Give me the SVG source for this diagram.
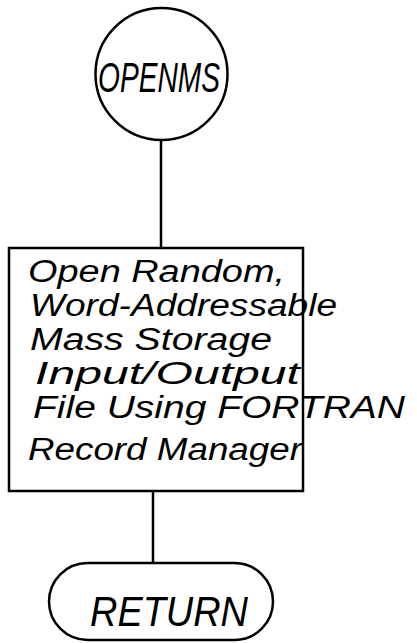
<svg xmlns="http://www.w3.org/2000/svg" width="417" height="643" viewBox="0 0 417 643">
  <style>
    .shape { fill: none; stroke: #000; stroke-width: 2.5; }
    .wire { fill: none; stroke: #000; stroke-width: 2.5; }
    .hand { font-family: "Liberation Sans", "DejaVu Sans", sans-serif; font-style: italic; font-size: 31px; fill: #000; }
    .title { font-size: 42px; }
  </style>
  <rect width="417" height="643" fill="#fff"/>

  <!-- connectors -->
  <g id="connectors">
    <line class="wire" x1="161" y1="140" x2="161" y2="248"/>
    <line class="wire" x1="153" y1="491" x2="153" y2="563"/>
  </g>

  <!-- entry point -->
  <g id="node-openms">
    <circle class="shape" cx="161.5" cy="74" r="66"/>
    <text class="hand title" x="98" y="92" textLength="122" lengthAdjust="spacingAndGlyphs">OPENMS</text>
  </g>

  <!-- process box -->
  <g id="node-open-file">
    <rect class="shape" x="9" y="248" width="294" height="243"/>
    <text class="hand" x="28" y="282" textLength="257" lengthAdjust="spacingAndGlyphs">Open Random,</text>
    <text class="hand" x="30" y="316" textLength="307" lengthAdjust="spacingAndGlyphs">Word-Addressable</text>
    <text class="hand" x="30" y="350" textLength="242" lengthAdjust="spacingAndGlyphs">Mass Storage</text>
    <text class="hand" x="35" y="384" textLength="265" lengthAdjust="spacingAndGlyphs">Input/Output</text>
    <text class="hand" x="33" y="418" textLength="372" lengthAdjust="spacingAndGlyphs">File  Using FORTRAN</text>
    <text class="hand" x="28" y="460" textLength="274" lengthAdjust="spacingAndGlyphs">Record Manager</text>
  </g>

  <!-- terminator -->
  <g id="node-return">
    <rect class="shape" x="49" y="563" width="224" height="77" rx="38.5" ry="38.5"/>
    <text class="hand title" x="90" y="626" textLength="158" lengthAdjust="spacingAndGlyphs">RETURN</text>
  </g>
</svg>
